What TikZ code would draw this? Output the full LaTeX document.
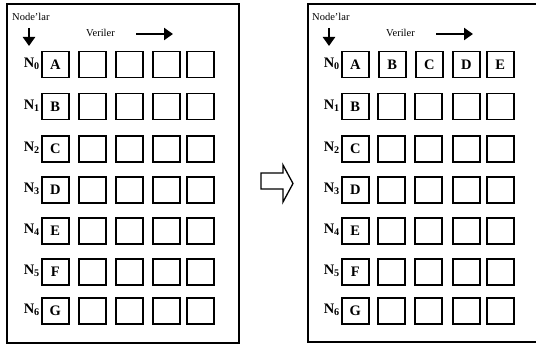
\documentclass[tikz,border=0pt]{standalone}
\usepackage{fontspec}
\setmainfont{Liberation Serif}
\usetikzlibrary{arrows.meta}
\tikzset{
  cell/.style={draw, line width=1.5pt, minimum width=27pt, minimum height=26pt,
    anchor=north west, inner sep=0pt, font=\bfseries\fontsize{14.5}{14.5}\selectfont},
  nlab/.style={anchor=east, inner sep=0pt, font=\bfseries\fontsize{14.5}{14.5}\selectfont},
  frame/.style={draw, line width=1.3pt},
  small/.style={inner sep=0pt, font=\fontsize{10.5}{10.5}\selectfont},
  bigarrow/.style={line width=2.8pt, -{Triangle[length=9pt,width=12pt]}},
  hollow/.style={draw, line width=1.3pt, line join=miter}
}
\begin{document}
\begin{tikzpicture}[x=1pt,y=-1pt]
\useasboundingbox (0,0) rectangle (536,345);
% frames
\draw[frame] (7,4) rectangle (239,343);
\draw[frame] (308,4) rectangle (540,342);
% panels
\foreach \ox/\p in {0/L,300/R}{
  \node[small, anchor=west] (nodelar\p) at (12+\ox,17) {Node'lar};
  \coordinate (da\p) at (29+\ox,28);
  \coordinate (db\p) at (29+\ox,46);
  \draw[bigarrow] (da\p) -- (db\p);
  \node[small, anchor=west] (veriler\p) at (86+\ox,33) {Veriler};
  \coordinate (ra\p) at (136+\ox,34);
  \coordinate (rb\p) at (173+\ox,34);
  \draw[bigarrow] (ra\p) -- (rb\p);
  \foreach \r/\y/\lt in {0/51/A,1/93/B,2/135/C,3/176/D,4/217/E,5/258/F,6/297/G}{
    \node[nlab] (n\p\r) at (40+\ox,\y+13) {N\textsubscript{\r}};
    \node[cell] (c\p\r1) at (41+\ox,\y) {\lt};
  }
}
% left panel empty cells
\foreach \r/\y in {0/51,1/93,2/135,3/176,4/217,5/258,6/297}{
  \foreach \c/\x in {2/78,3/115,4/152,5/186}{
    \node[cell] (cL\r\c) at (\x,\y) {};
  }
}
% right panel row 0 filled
\node[cell] (cR02) at (378,51) {B};
\node[cell] (cR03) at (415,51) {C};
\node[cell] (cR04) at (452,51) {D};
\node[cell] (cR05) at (486,51) {E};
% right panel empty cells
\foreach \r/\y in {1/93,2/135,3/176,4/217,5/258,6/297}{
  \foreach \c/\x in {2/377,3/414,4/452,5/486}{
    \node[cell] (cR\r\c) at (\x,\y) {};
  }
}
% hollow block arrow
\draw[hollow] (261,173) -- (283,173) -- (283,165) -- (293,183.5) -- (283,202) -- (283,189) -- (261,189) -- cycle;
\end{tikzpicture}
\end{document}
